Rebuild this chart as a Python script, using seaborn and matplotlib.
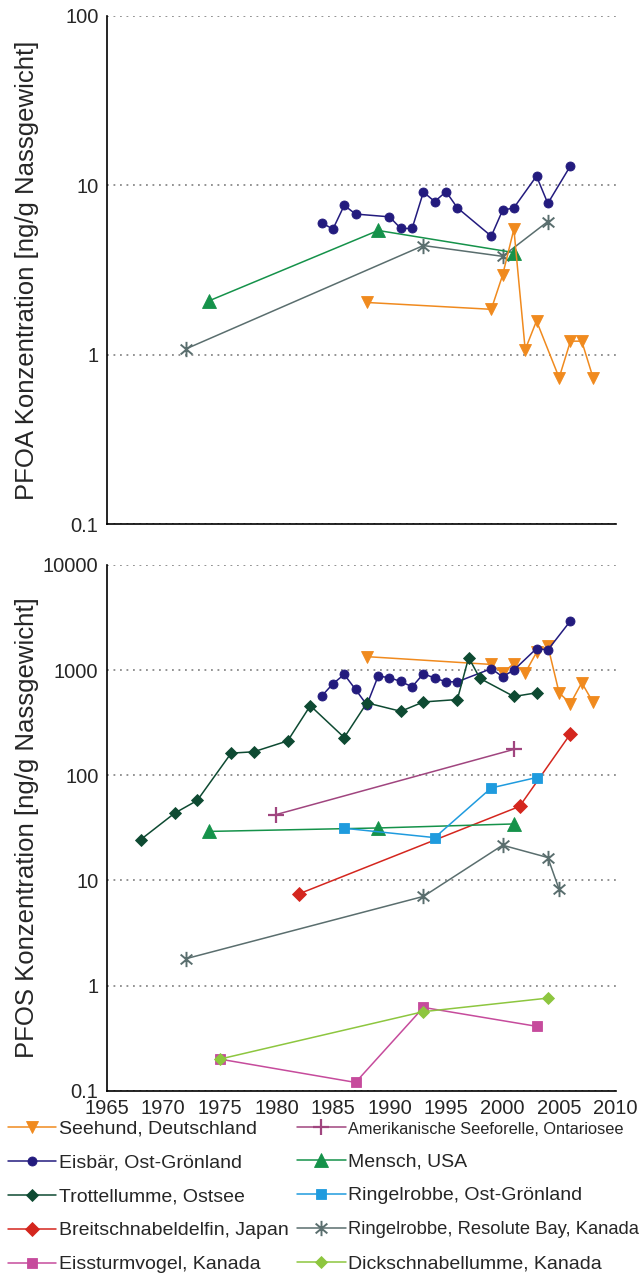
import matplotlib
matplotlib.use("Agg")
import matplotlib.pyplot as plt
import seaborn as sns
import numpy as np
from matplotlib.path import Path
from matplotlib.ticker import FixedLocator, FixedFormatter

# ---- PFOA (top panel) ----
pfoa_seehund_years = [1988, 1999, 2000, 2001, 2002, 2003, 2005, 2006, 2007, 2008]
pfoa_seehund = [2.03, 1.85, 2.94, 5.5, 1.07, 1.58, 0.73, 1.2, 1.2, 0.73]

pfoa_eisbaer_years = [1984, 1985, 1986, 1987, 1990, 1991, 1992, 1993, 1994, 1995,
                      1996, 1999, 2000, 2001, 2003, 2004, 2006]
pfoa_eisbaer = [6.0, 5.5, 7.6, 6.75, 6.5, 5.55, 5.55, 9.1, 8.0, 9.15,
                7.35, 5.0, 7.1, 7.35, 11.3, 7.8, 13.0]

pfoa_mensch_years = [1974, 1989, 2001]
pfoa_mensch = [2.07, 5.4, 4.0]

pfoa_resolute_years = [1972, 1993, 2000, 2004]
pfoa_resolute = [1.08, 4.4, 3.8, 6.1]

# ---- PFOS (bottom panel) ----
pfos_seehund_years = [1988, 1999, 2000, 2001, 2002, 2003, 2004, 2005, 2006, 2007, 2008]
pfos_seehund = [1340, 1130, 940, 1150, 940, 1470, 1700, 607, 480, 757, 493]

pfos_eisbaer_years = [1984, 1985, 1986, 1987, 1988, 1989, 1990, 1991, 1992, 1993,
                      1994, 1995, 1996, 1999, 2000, 2001, 2003, 2004, 2006]
pfos_eisbaer = [564, 740, 908, 653, 466, 876, 845, 778, 692, 922,
                838, 773, 773, 1030, 863, 1000, 1600, 1550, 2930]

pfos_trottellumme_years = [1968, 1971, 1973, 1976, 1978, 1981, 1983, 1986, 1988, 1991,
                           1993, 1996, 1997, 1998, 2001, 2003]
pfos_trottellumme = [24.4, 43.5, 57.5, 162, 167, 212, 458, 228, 487, 405,
                     497, 524, 1313, 832, 560, 607]

pfos_delfin_years = [1982, 2001.5, 2006]
pfos_delfin = [7.45, 50.5, 247]

pfos_eissturmvogel_years = [1975, 1987, 1993, 2003]
pfos_eissturmvogel = [0.20, 0.12, 0.62, 0.41]

pfos_seeforelle_years = [1980, 2001]
pfos_seeforelle = [42.3, 176]

pfos_mensch_years = [1974, 1989, 2001]
pfos_mensch = [29.2, 31.5, 34.4]

pfos_ringel_og_years = [1986, 1994, 1999, 2003]
pfos_ringel_og = [31.3, 25.5, 75.7, 95]

pfos_resolute_years = [1972, 1993, 2000, 2004, 2005]
pfos_resolute = [1.80, 7.04, 21.6, 16.5, 8.2]

pfos_dickschnabel_years = [1975, 1993, 2004]
pfos_dickschnabel = [0.20, 0.565, 0.76]

# axis text
pfoa_ticks = [0.1, 1, 10, 100]
pfoa_ticklabels = ["0.1", "1", "10", "100"]
pfos_ticks = [0.1, 1, 10, 100, 1000, 10000]
pfos_ticklabels = ["0.1", "1", "10", "100", "1000", "10000"]
year_ticks = [1965, 1970, 1975, 1980, 1985, 1990, 1995, 2000, 2005, 2010]
pfoa_label = "PFOA Konzentration [ng/g Nassgewicht]"
pfos_label = "PFOS Konzentration [ng/g Nassgewicht]"

# six-armed asterisk (vertical bar plus an X)
ang = np.deg2rad([90, 270, 40, 220, 140, 320])
star = Path(np.column_stack([np.cos(ang), np.sin(ang)]),
            [Path.MOVETO, Path.LINETO] * 3)

# name -> (colour, marker, markersize, edge width)
styles = {
    "Seehund, Deutschland": ("#f08a1e", "v", 8.5, 0.6),
    "Eisbär, Ost-Grönland": ("#231b7e", "o", 6.5, 0.6),
    "Trottellumme, Ostsee": ("#0e4a32", "D", 6.5, 0.6),
    "Breitschnabeldelfin, Japan": ("#d4261e", "D", 7.5, 0.6),
    "Eissturmvogel, Kanada": ("#c64b9c", "s", 7, 0.6),
    "Amerikanische Seeforelle, Ontariosee": ("#a0457f", "+", 11, 1.6),
    "Mensch, USA": ("#15924a", "^", 9.5, 0.6),
    "Ringelrobbe, Ost-Grönland": ("#1f9bde", "s", 6.5, 0.6),
    "Ringelrobbe, Resolute Bay, Kanada": ("#5a6e6e", star, 11, 1.4),
    "Dickschnabellumme, Kanada": ("#8dc63f", "D", 6, 0.6),
}

sns.set_style("white")
plt.rcParams["font.family"] = ["Liberation Sans", "DejaVu Sans"]

fig = plt.figure(figsize=(6.41, 12.75), dpi=100)
ax1 = fig.add_axes([0.1665, 0.589, 0.794, 0.3987])
ax2 = fig.add_axes([0.1665, 0.1445, 0.794, 0.4125])


def draw(ax, name, years, vals):
    c, m, ms, mew = styles[name]
    sns.lineplot(x=years, y=vals, ax=ax, color=c, marker=m, markersize=ms,
                 markeredgecolor=c, markerfacecolor=c, markeredgewidth=mew,
                 linewidth=1.1, errorbar=None, label=name)


draw(ax1, "Ringelrobbe, Resolute Bay, Kanada", pfoa_resolute_years, pfoa_resolute)
draw(ax1, "Mensch, USA", pfoa_mensch_years, pfoa_mensch)
draw(ax1, "Seehund, Deutschland", pfoa_seehund_years, pfoa_seehund)
draw(ax1, "Eisbär, Ost-Grönland", pfoa_eisbaer_years, pfoa_eisbaer)

draw(ax2, "Seehund, Deutschland", pfos_seehund_years, pfos_seehund)
draw(ax2, "Eisbär, Ost-Grönland", pfos_eisbaer_years, pfos_eisbaer)
draw(ax2, "Trottellumme, Ostsee", pfos_trottellumme_years, pfos_trottellumme)
draw(ax2, "Breitschnabeldelfin, Japan", pfos_delfin_years, pfos_delfin)
draw(ax2, "Eissturmvogel, Kanada", pfos_eissturmvogel_years, pfos_eissturmvogel)
draw(ax2, "Amerikanische Seeforelle, Ontariosee", pfos_seeforelle_years, pfos_seeforelle)
draw(ax2, "Mensch, USA", pfos_mensch_years, pfos_mensch)
draw(ax2, "Ringelrobbe, Ost-Grönland", pfos_ringel_og_years, pfos_ringel_og)
draw(ax2, "Ringelrobbe, Resolute Bay, Kanada", pfos_resolute_years, pfos_resolute)
draw(ax2, "Dickschnabellumme, Kanada", pfos_dickschnabel_years, pfos_dickschnabel)

for ax, ticks, labels, lo, hi in [(ax1, pfoa_ticks, pfoa_ticklabels, 0.1, 100),
                                  (ax2, pfos_ticks, pfos_ticklabels, 0.1, 10000)]:
    ax.set_yscale("log")
    ax.set_ylim(lo, hi)
    ax.set_xlim(1965, 2010)
    ax.yaxis.set_major_locator(FixedLocator(ticks))
    ax.yaxis.set_major_formatter(FixedFormatter(labels))
    ax.yaxis.set_minor_locator(FixedLocator([]))
    ax.yaxis.grid(True, linestyle=(0, (1, 2.6)), color="#8a8a8a", linewidth=1.3)
    ax.xaxis.grid(False)
    for s in ["top", "right"]:
        ax.spines[s].set_visible(False)
    for s in ["left", "bottom"]:
        ax.spines[s].set_color("black")
        ax.spines[s].set_linewidth(1.2)
    ax.tick_params(axis="both", direction="out", length=4, width=1.1,
                   color="black", labelsize=14.5, labelcolor="#262626", pad=2)
    ax.set_xlabel("")
    ax.set_ylabel("")
    if ax.get_legend() is not None:
        ax.get_legend().remove()

ax1.set_xticks([])
ax2.xaxis.set_major_locator(FixedLocator(year_ticks))

fig.text(27 / 641, 0.788, pfoa_label, rotation=90, ha="center", va="center",
         fontsize=18.5, color="#262626")
fig.text(27 / 641, 0.351, pfos_label, rotation=90, ha="center", va="center",
         fontsize=18.5, color="#262626")

handles, labels = ax2.get_legend_handles_labels()
order = ["Seehund, Deutschland", "Eisbär, Ost-Grönland", "Trottellumme, Ostsee",
         "Breitschnabeldelfin, Japan", "Eissturmvogel, Kanada",
         "Amerikanische Seeforelle, Ontariosee", "Mensch, USA",
         "Ringelrobbe, Ost-Grönland", "Ringelrobbe, Resolute Bay, Kanada",
         "Dickschnabellumme, Kanada"]
hmap = dict(zip(labels, handles))
leg = fig.legend([hmap[n] for n in order], order, loc="upper left",
                 bbox_to_anchor=(0.012, 0.1216), ncol=2, frameon=False,
                 fontsize=14, handlelength=2.5, handletextpad=0.12,
                 columnspacing=0.45, labelspacing=0.84, borderaxespad=0,
                 borderpad=0)
for t in leg.get_texts():
    t.set_color("#262626")
leg.get_texts()[5].set_fontsize(11.8)
leg.get_texts()[8].set_fontsize(13.2)

fig.savefig("out.png", dpi=100)
